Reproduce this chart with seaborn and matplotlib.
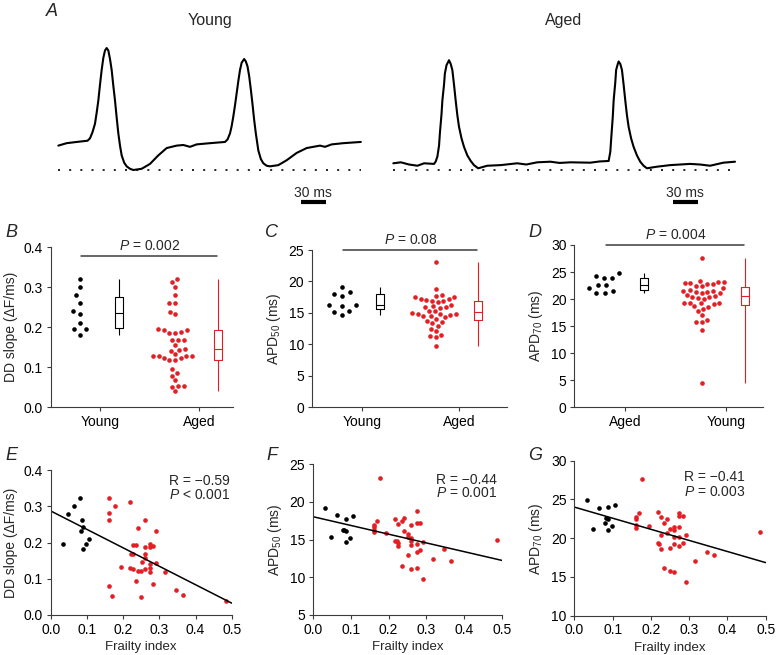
import matplotlib
matplotlib.use("Agg")
import matplotlib.pyplot as plt
import seaborn as sns
import pandas as pd
import numpy as np

# ---------------- data ----------------
# Panel A: optical action potential traces (time in ms, fluorescence in a.u., 0 = baseline)
young_t = [0, 10, 22, 35, 38, 41, 44, 46, 48, 50, 52, 54, 56, 58, 60, 62, 64, 66, 68, 70, 72,
           74, 76, 79, 82, 86, 90, 100, 110, 120, 130, 142, 150, 158, 166, 182, 200, 203, 206,
           208, 210, 212, 214, 216, 218, 220, 223, 225, 227, 229, 231, 233, 235, 237, 240, 243,
           246, 250, 254, 264, 274, 286, 298, 314, 320, 328, 342, 363]
young_f = [0.20, 0.22, 0.23, 0.24, 0.26, 0.31, 0.38, 0.47, 0.57, 0.70, 0.82, 0.92, 0.98, 1.00,
           0.98, 0.91, 0.82, 0.69, 0.57, 0.43, 0.30, 0.20, 0.12, 0.06, 0.03, 0.01, 0.0, 0.01,
           0.05, 0.12, 0.18, 0.20, 0.205, 0.19, 0.21, 0.22, 0.23, 0.25, 0.30, 0.36, 0.44, 0.53,
           0.63, 0.73, 0.82, 0.88, 0.91, 0.89, 0.85, 0.77, 0.66, 0.54, 0.41, 0.30, 0.16, 0.09,
           0.055, 0.035, 0.03, 0.04, 0.08, 0.14, 0.18, 0.20, 0.19, 0.21, 0.22, 0.23]
aged_t = [0, 9, 19, 29, 37, 49, 51, 53, 55, 56, 58, 59, 61, 62, 64, 67, 69, 71, 73, 75, 77, 79,
          82, 85, 89, 93, 97, 102, 113, 129, 149, 160, 173, 189, 200, 213, 237, 248, 259, 261,
          262, 264, 265, 267, 268, 270, 271, 273, 275, 277, 279, 281, 283, 286, 289, 293, 297,
          301, 305, 317, 333, 345, 357, 369, 381, 397, 411]
aged_f = [0.055, 0.063, 0.045, 0.035, 0.055, 0.05, 0.07, 0.11, 0.20, 0.30, 0.46, 0.57, 0.70,
          0.79, 0.86, 0.90, 0.87, 0.82, 0.70, 0.57, 0.45, 0.355, 0.26, 0.19, 0.12, 0.075, 0.04,
          0.014, 0.035, 0.04, 0.055, 0.045, 0.063, 0.068, 0.058, 0.063, 0.06, 0.07, 0.074, 0.15,
          0.25, 0.44, 0.57, 0.72, 0.82, 0.87, 0.89, 0.87, 0.82, 0.70, 0.57, 0.45, 0.355, 0.26,
          0.19, 0.12, 0.068, 0.035, 0.014, 0.027, 0.04, 0.045, 0.05, 0.045, 0.035, 0.06, 0.068]

# Per-animal values, young mice
young_frailty = [0.033, 0.049, 0.065, 0.081, 0.083, 0.087, 0.089, 0.089, 0.098, 0.106]
young_dd = [0.195, 0.280, 0.301, 0.322, 0.232, 0.262, 0.242, 0.181, 0.195, 0.211]
young_apd50 = [19.19, 15.38, 18.26, 16.22, 16.2, 17.68, 16.13, 14.71, 15.2, 18.08]
young_apd70 = [24.89, 21.14, 23.94, 22.0, 22.65, 22.52, 23.98, 21.06, 21.57, 24.33]

# Per-animal values, aged mice
aged_frailty = [0.162, 0.162, 0.162, 0.162, 0.169, 0.178, 0.194, 0.218, 0.218, 0.221, 0.226,
                0.226, 0.226, 0.235, 0.235, 0.242, 0.242, 0.250, 0.250, 0.251, 0.260, 0.260,
                0.260, 0.260, 0.260, 0.274, 0.274, 0.274, 0.274, 0.274, 0.283, 0.283, 0.291,
                0.291, 0.316, 0.347, 0.365, 0.485]
aged_dd = [0.322, 0.282, 0.262, 0.079, 0.052, 0.301, 0.132, 0.313, 0.129, 0.167, 0.193, 0.168,
           0.128, 0.193, 0.095, 0.239, 0.122, 0.122, 0.051, 0.146, 0.262, 0.187, 0.168, 0.156,
           0.128, 0.196, 0.187, 0.141, 0.129, 0.118, 0.189, 0.086, 0.232, 0.143, 0.118, 0.068,
           0.054, 0.040]
aged_apd50 = [16.97, 16.66, 16.0, 16.3, 17.46, 23.1, 15.91, 17.68, 14.8, 14.76, 17.02, 14.09,
              14.5, 17.46, 11.52, 17.9, 16.09, 15.34, 12.99, 15.73, 16.97, 15.25, 14.76, 14.32,
              11.12, 18.75, 17.2, 14.45, 13.34, 11.26, 17.2, 13.56, 14.67, 9.75, 12.45, 13.78,
              12.14, 14.98]
aged_apd70 = [22.78, 22.48, 21.7, 21.36, 23.2, 27.64, 21.57, 23.42, 19.34, 19.21, 22.78, 20.41,
              18.6, 22.0, 16.1, 22.43, 20.63, 21.14, 18.69, 15.8, 21.49, 21.06, 20.2, 19.25,
              15.68, 23.2, 22.9, 21.4, 20.1, 19.04, 22.9, 19.34, 20.37, 14.35, 17.06, 18.26,
              17.83, 20.76]
aged_apd70_extra = [4.5]   # shown in D only (no frailty score)

RED = "#e31e24"
INK = "#3c3c3c"
DOT = 3.3          # marker diameter (pt)

sns.set_style("ticks")
plt.rcParams["font.family"] = ["Liberation Sans", "DejaVu Sans"]
plt.rcParams.update({
    "mathtext.fontset": "custom",
    "mathtext.rm": "Liberation Sans",
    "mathtext.it": "Liberation Sans:italic",
    "mathtext.bf": "Liberation Sans:bold",
    "font.size": 10,
    "axes.edgecolor": INK,
    "axes.linewidth": 0.8,
    "xtick.color": INK,
    "ytick.color": INK,
    "xtick.labelcolor": "black",
    "ytick.labelcolor": "black",
    "xtick.major.size": 3,
    "ytick.major.size": 3,
    "xtick.major.width": 0.8,
    "ytick.major.width": 0.8,
    "xtick.major.pad": 2.5,
    "ytick.major.pad": 2.5,
    "xtick.labelsize": 10,
    "ytick.labelsize": 10,
})

W, H = 777, 655
fig = plt.figure(figsize=(W / 100, H / 100), dpi=100)


def px_axes(left, top, right, bottom):
    return fig.add_axes([left / W, 1 - bottom / H, (right - left) / W, (bottom - top) / H])


# ---------------- panel A ----------------
for ax, t, f, bar_x, title_x, title in [
        (px_axes(50, 40, 370, 210), young_t, young_f, 291, 210, "Young"),
        (px_axes(385, 40, 745, 210), aged_t, aged_f, 336, 564, "Aged")]:
    sns.lineplot(x=t, y=f, ax=ax, color="black", lw=1.5, sort=False, estimator=None)
    ax.plot([t[0], t[-1]], [0, 0], color="black", lw=1.2, ls=(0, (1.2, 5.5)))
    ax.plot([bar_x, bar_x + 30], [-0.262, -0.262], color="black", lw=3, solid_capstyle="butt")
    ax.text(bar_x + 15, -0.19, "30 ms", ha="center", va="center", fontsize=10)
    ax.set_xlim(-10, 374 if title == "Young" else 423)
    ax.set_ylim(-0.328, 1.066)
    ax.axis("off")
    fig.text(title_x / W, 1 - 21 / H, title, ha="center", va="center", fontsize=11.5)

fig.text(52 / W, 1 - 12 / H, "A", ha="center", va="center", fontsize=13, style="italic")


# ---------------- panels B-D ----------------
def group_panel(ax, first_vals, second_vals, labels, ylim, yticks, yfmt, ylabel, ptext, pline_y, xlim):
    groups = [(0, first_vals, "black", 5.8, -0.20), (1, second_vals, RED, 4.0, -0.24)]
    ax.set_xlim(*xlim)
    ax.set_ylim(*ylim)
    for i, vals, col, gap, shift in groups:
        sns.swarmplot(x=[i + shift] * len(vals), y=vals, color=col, size=gap,
                      native_scale=True, orient="x", ax=ax)
    ax.set_xlim(*xlim)
    ax.set_ylim(*ylim)
    # let seaborn lay out each swarm with a looser spacing, then keep it and shrink the dots
    fig.canvas.draw()
    for coll in ax.collections:
        if "draw" in vars(coll):
            del coll.draw
            coll.set_sizes([DOT ** 2])

    df = pd.DataFrame({
        "group": [labels[0]] * len(first_vals) + [labels[1]] * len(second_vals),
        "value": list(first_vals) + list(second_vals),
    })
    df["box_x"] = np.where(df["group"] == labels[0], 0, 1) + 0.19
    pal = {labels[0]: "black", labels[1]: RED}
    sns.boxplot(data=df, x="box_x", y="value", hue="group", palette=pal, native_scale=True,
                orient="x", dodge=False, width=0.085, fill=False, whis=(0, 100),
                showcaps=False, linewidth=0.8, legend=False, ax=ax)
    ax.set_xlim(*xlim)
    ax.set_ylim(*ylim)
    ax.set_yticks(yticks)
    ax.set_yticklabels([yfmt.format(v) for v in yticks])
    ax.set_xticks([0, 1])
    ax.set_xticklabels(labels)
    ax.set_xlabel("")
    ax.set_ylabel(ylabel, fontsize=10, labelpad=4)
    sns.despine(ax=ax)
    ax.plot([-0.19, 1.18], [pline_y, pline_y], color=INK, lw=1.1, clip_on=False)
    ax.annotate(ptext, (0.5, pline_y), xytext=(0, 2), textcoords="offset points",
                ha="center", va="bottom", fontsize=10, annotation_clip=False)


axB = px_axes(50.7, 247.3, 233, 407.3)
group_panel(axB, young_dd, aged_dd, ["Young", "Aged"], (0, 0.4), [0, 0.1, 0.2, 0.3, 0.4],
            "{:.1f}", "DD slope (ΔF/ms)", "$P$ = 0.002", 0.378, (-0.498, 1.343))
axC = px_axes(311.7, 250, 506.7, 407.3)
group_panel(axC, young_apd50, aged_apd50, ["Young", "Aged"], (0, 25), [0, 5, 10, 15, 20, 25],
            "{:.0f}", "APD$_{50}$ (ms)", "$P$ = 0.08", 25, (-0.512, 1.484))
axD = px_axes(574.3, 245, 763, 407.3)
group_panel(axD, young_apd70, aged_apd70 + aged_apd70_extra, ["Aged", "Young"], (0, 30),
            [0, 5, 10, 15, 20, 25, 30], "{:.0f}", "APD$_{70}$ (ms)", "$P$ = 0.004", 30,
            (-0.503, 1.37))


# ---------------- panels E-G ----------------
def corr_panel(ax, young_vals, aged_vals, ylim, yticks, yfmt, ylabel, rtext, ptext, txt_x, txt_y):
    ax.set_xlim(0, 0.5)
    ax.set_ylim(*ylim)
    sns.scatterplot(x=young_frailty, y=young_vals, color="black", s=11, linewidth=0, ax=ax)
    sns.scatterplot(x=aged_frailty, y=aged_vals, color=RED, s=11, linewidth=0, ax=ax)
    sns.regplot(x=young_frailty + aged_frailty, y=list(young_vals) + list(aged_vals),
                scatter=False, ci=None, truncate=False, ax=ax,
                line_kws=dict(color="black", lw=1.1))
    ax.set_xlim(0, 0.5)
    ax.set_ylim(*ylim)
    ax.set_xticks([0, 0.1, 0.2, 0.3, 0.4, 0.5])
    ax.set_xticklabels(["{:.1f}".format(v) for v in [0, 0.1, 0.2, 0.3, 0.4, 0.5]])
    ax.set_yticks(yticks)
    ax.set_yticklabels([yfmt.format(v) for v in yticks])
    ax.set_xlabel("Frailty index", fontsize=9.5, labelpad=3)
    ax.set_ylabel(ylabel, fontsize=10, labelpad=4)
    sns.despine(ax=ax)
    ax.text(txt_x, txt_y[0], rtext, transform=ax.transAxes, ha="right", va="center", fontsize=10)
    ax.text(txt_x, txt_y[1], ptext, transform=ax.transAxes, ha="right", va="center", fontsize=10)


axE = px_axes(50.7, 470, 231.7, 615)
corr_panel(axE, young_dd, aged_dd, (0, 0.4), [0, 0.1, 0.2, 0.3, 0.4], "{:.1f}",
           "DD slope (ΔF/ms)", "R = −0.59", "$P$ < 0.001", 0.99, (0.926, 0.828))
axF = px_axes(312.7, 464, 502.3, 615)
corr_panel(axF, young_apd50, aged_apd50, (5, 25), [5, 10, 15, 20, 25], "{:.0f}",
           "APD$_{50}$ (ms)", "R = −0.44", "$P$ = 0.001", 0.97, (0.894, 0.806))
axG = px_axes(574.3, 460.7, 765.7, 615.7)
corr_panel(axG, young_apd70, aged_apd70, (10, 30), [10, 15, 20, 25, 30], "{:.0f}",
           "APD$_{70}$ (ms)", "R = −0.41", "$P$ = 0.003", 0.892, (0.897, 0.80))

for letter, x, y in [("B", 11, 232), ("C", 272, 232), ("D", 535, 232),
                     ("E", 11, 456), ("F", 272, 456), ("G", 535, 456)]:
    fig.text(x / W, 1 - y / H, letter, ha="center", va="center", fontsize=13, style="italic")

fig.savefig("out.png", dpi=100)
